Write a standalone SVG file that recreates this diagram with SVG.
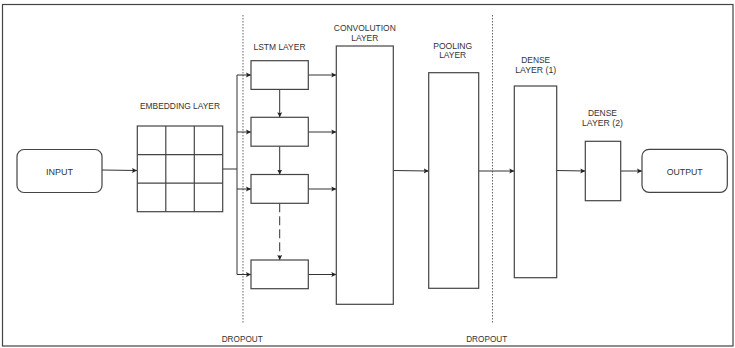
<svg xmlns="http://www.w3.org/2000/svg" width="735" height="348" viewBox="0 0 735 348">
<style>
.box{fill:#fff;stroke:#444;stroke-width:1.2}
.conn{fill:none;stroke:#333;stroke-width:1}
.dot{fill:none;stroke:#666;stroke-width:1;stroke-dasharray:1.5 1.5}
text{font-family:"Liberation Sans",Arial,sans-serif;font-size:9.5px;fill:#333;text-anchor:middle}
.sm{font-size:9px}
</style>
<defs>
<marker id="ah" markerWidth="6" markerHeight="6" refX="5" refY="3" orient="auto" markerUnits="userSpaceOnUse">
<path d="M0,0.5 L5,3 L0,5.5 L1,3 Z" fill="#222"/>
</marker>
</defs>
<rect x="2.5" y="4.5" width="730.5" height="341.5" fill="#fff" stroke="#444" stroke-width="1.2"/>

<g id="dropout-lines">
<line class="dot" x1="243" y1="15" x2="243" y2="323"/>
<line class="dot" x1="492.5" y1="15" x2="492.5" y2="323"/>
</g>

<g id="connectors">
<line class="conn" x1="102" y1="170" x2="137" y2="170.5" marker-end="url(#ah)"/>
<polyline class="conn" points="223,169 237,169"/>
<line class="conn" x1="237" y1="75" x2="237" y2="274.5"/>
<line class="conn" x1="237" y1="75" x2="251" y2="75" marker-end="url(#ah)"/>
<line class="conn" x1="237" y1="132" x2="251" y2="132" marker-end="url(#ah)"/>
<line class="conn" x1="237" y1="189" x2="251" y2="189" marker-end="url(#ah)"/>
<line class="conn" x1="237" y1="274.5" x2="251" y2="274.5" marker-end="url(#ah)"/>
<line class="conn" x1="279.7" y1="89.5" x2="279.7" y2="117.3" marker-end="url(#ah)"/>
<line class="conn" x1="279.7" y1="146.3" x2="279.7" y2="174.5" marker-end="url(#ah)"/>
<line class="conn" x1="279.7" y1="203.3" x2="279.7" y2="260" stroke-dasharray="9 4" marker-end="url(#ah)"/>
<line class="conn" x1="308.3" y1="75" x2="336.3" y2="75" marker-end="url(#ah)"/>
<line class="conn" x1="308.3" y1="132" x2="336.3" y2="132" marker-end="url(#ah)"/>
<line class="conn" x1="308.3" y1="189" x2="336.3" y2="189" marker-end="url(#ah)"/>
<line class="conn" x1="308.3" y1="274.5" x2="336.3" y2="274.5" marker-end="url(#ah)"/>
<line class="conn" x1="393.3" y1="170.5" x2="428.7" y2="171" marker-end="url(#ah)"/>
<line class="conn" x1="478.7" y1="171" x2="514.3" y2="171" marker-end="url(#ah)"/>
<line class="conn" x1="556.7" y1="170.5" x2="585.3" y2="171" marker-end="url(#ah)"/>
<line class="conn" x1="620.7" y1="171" x2="642" y2="171" marker-end="url(#ah)"/>
</g>

<g id="input">
<rect class="box" x="17" y="149.5" width="85" height="43" rx="7"/>
<text x="59.5" y="174.5" textLength="27" lengthAdjust="spacingAndGlyphs">INPUT</text>
</g>

<g id="embedding">
<text x="180" y="108.5" textLength="80" lengthAdjust="spacingAndGlyphs">EMBEDDING LAYER</text>
<rect class="box" x="137.3" y="126" width="85.4" height="85.7"/>
<line class="box" x1="165.8" y1="126" x2="165.8" y2="211.7"/>
<line class="box" x1="194.3" y1="126" x2="194.3" y2="211.7"/>
<line class="box" x1="137.3" y1="154.6" x2="222.7" y2="154.6"/>
<line class="box" x1="137.3" y1="183.1" x2="222.7" y2="183.1"/>
</g>

<g id="lstm">
<text x="279.5" y="50" textLength="52" lengthAdjust="spacingAndGlyphs">LSTM LAYER</text>
<rect class="box" x="251" y="60.7" width="57.3" height="28.7"/>
<rect class="box" x="251" y="117.3" width="57.3" height="28.9"/>
<rect class="box" x="251" y="174.5" width="57.3" height="28.8"/>
<rect class="box" x="251" y="260" width="57.3" height="28.7"/>
</g>

<g id="convolution">
<text x="364.8" y="30.8" textLength="62" lengthAdjust="spacingAndGlyphs">CONVOLUTION</text>
<text x="364.8" y="40.8" textLength="27" lengthAdjust="spacingAndGlyphs">LAYER</text>
<rect class="box" x="336.3" y="46" width="57" height="258.3"/>
</g>

<g id="pooling">
<text x="452.7" y="48.5" textLength="39" lengthAdjust="spacingAndGlyphs">POOLING</text>
<text x="452.7" y="58.3" textLength="27" lengthAdjust="spacingAndGlyphs">LAYER</text>
<rect class="box" x="428.7" y="72.7" width="50" height="215.6"/>
</g>

<g id="dense1">
<text x="535.7" y="62.6" textLength="29" lengthAdjust="spacingAndGlyphs">DENSE</text>
<text x="535.7" y="72.6" textLength="41" lengthAdjust="spacingAndGlyphs">LAYER (1)</text>
<rect class="box" x="514.3" y="86" width="42.4" height="191.7"/>
</g>

<g id="dense2">
<text class="sm" x="602.4" y="116.2" textLength="29" lengthAdjust="spacingAndGlyphs">DENSE</text>
<text class="sm" x="602.4" y="126.4" textLength="41" lengthAdjust="spacingAndGlyphs">LAYER (2)</text>
<rect class="box" x="585.3" y="141.3" width="35.4" height="59.4"/>
</g>

<g id="output">
<rect class="box" x="642" y="149.3" width="85.3" height="43" rx="7"/>
<text x="684.7" y="174.5" textLength="36" lengthAdjust="spacingAndGlyphs">OUTPUT</text>
</g>

<g id="dropout-labels">
<text x="242.2" y="342.3" textLength="41" lengthAdjust="spacingAndGlyphs">DROPOUT</text>
<text x="486.7" y="342.3" textLength="41" lengthAdjust="spacingAndGlyphs">DROPOUT</text>
</g>
</svg>
